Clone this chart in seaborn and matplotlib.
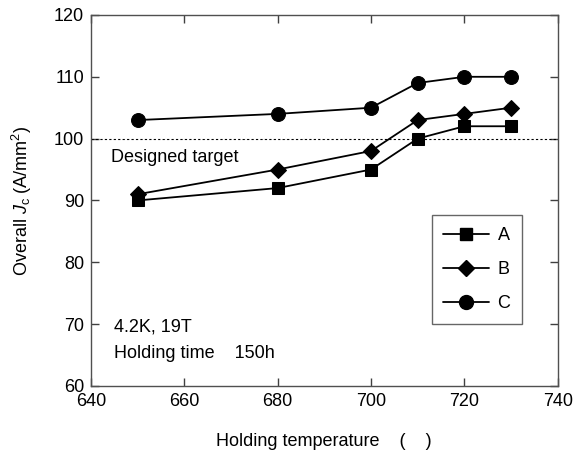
import matplotlib
matplotlib.use("Agg")
import matplotlib.pyplot as plt
import seaborn as sns
import pandas as pd
from matplotlib.lines import Line2D

temps = [650, 680, 700, 710, 720, 730]
series_A = [90, 92, 95, 100, 102, 102]
series_B = [91, 95, 98, 103, 104, 105]
series_C = [103, 104, 105, 109, 110, 110]
names = ["A", "B", "C"]
target = 100

sns.set_theme(style="ticks")
plt.rcParams['font.family'] = ['Liberation Sans', 'DejaVu Sans']
plt.rcParams['mathtext.fontset'] = 'custom'
plt.rcParams['mathtext.it'] = 'Liberation Sans:italic'
plt.rcParams['mathtext.rm'] = 'Liberation Sans'
plt.rcParams['text.color'] = 'black'
plt.rcParams['axes.labelcolor'] = 'black'
plt.rcParams['xtick.labelcolor'] = 'black'
plt.rcParams['ytick.labelcolor'] = 'black'

fig = plt.figure(figsize=(5.75, 4.54), dpi=100)
ax = fig.add_axes([0.158, 0.150, 0.812, 0.817])

markers = {"A": "s", "B": "D", "C": "o"}
msizes = {"A": 8, "B": 8, "C": 10}
handles = []
for name, vals in zip(names, [series_A, series_B, series_C]):
    df = pd.DataFrame({"T": temps, "Jc": vals})
    sns.lineplot(data=df, x="T", y="Jc", ax=ax, color="black", marker=markers[name],
                 markersize=msizes[name], markeredgecolor="black", linewidth=1.3, zorder=3)
    handles.append(Line2D([], [], color="black", marker=markers[name], markersize=msizes[name],
                          linewidth=1.3, label=name))

ax.axhline(target, color="black", linestyle=(0, (2, 2)), linewidth=0.8, zorder=1)

ax.set_xlim(640, 740)
ax.set_ylim(60, 120)
ax.set_xticks(range(640, 741, 20))
ax.set_yticks(range(60, 121, 10))
ax.tick_params(direction="in", top=True, right=True, length=6, width=1, labelsize=13,
               color="#404040", labelcolor="black", pad=5)
for s in ax.spines.values():
    s.set_color("#505050")
    s.set_linewidth(1)

ax.set_xlabel("Holding temperature    (    )", fontsize=13, labelpad=17, color="black")
ax.set_ylabel(r"Overall $J_{\mathrm{c}}$ (A/mm$^2$)", fontsize=13, labelpad=14, color="black")

ax.text(644.3, 97, "Designed target", fontsize=13, va="center", ha="left", color="black")
ax.text(645, 69.6, "4.2K, 19T", fontsize=13, va="center", ha="left", color="black")
ax.text(645, 65.3, "Holding time    150h", fontsize=13, va="center", ha="left", color="black")

leg = ax.legend(handles=handles, loc="upper left", bbox_to_anchor=(0.730, 0.46),
                frameon=True, fancybox=False, fontsize=13, handlelength=2.5,
                handletextpad=0.5, labelspacing=0.95, borderpad=0.65, borderaxespad=0,
                labelcolor="black")
leg.get_frame().set_edgecolor("#404040")
leg.get_frame().set_linewidth(1)

fig.savefig("out.png", dpi=100)
